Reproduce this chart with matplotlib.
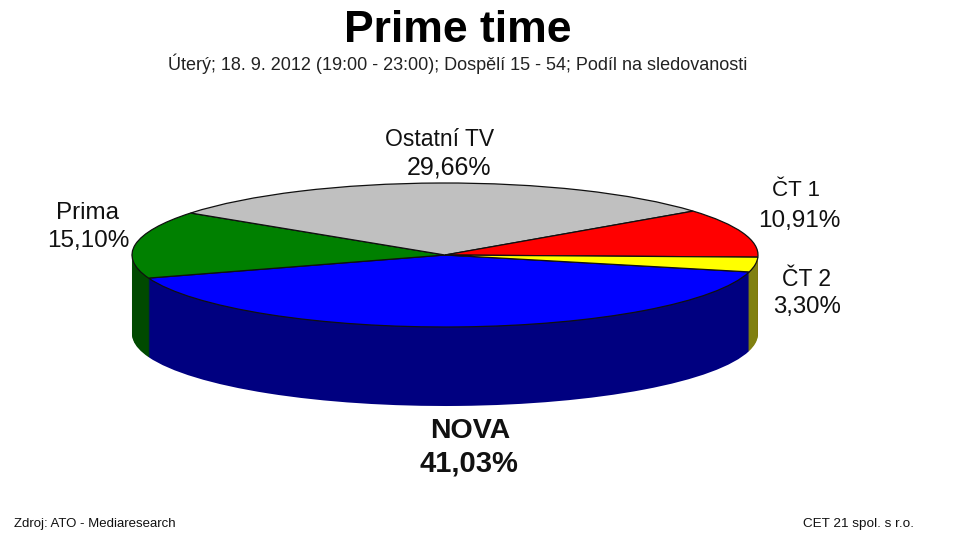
import matplotlib
matplotlib.use("Agg")
import matplotlib.pyplot as plt
from matplotlib.transforms import Affine2D
import numpy as np

plt.rcParams['font.family'] = ['Liberation Sans', 'DejaVu Sans']

categories = ["NOVA", "Prima", "Ostatní TV", "ČT 1", "ČT 2"]
shares = [41.03, 15.10, 29.66, 10.91, 3.30]
share_labels = ["41,03%", "15,10%", "29,66%", "10,91%", "3,30%"]
top_colors = ["#0000ff", "#008000", "#c0c0c0", "#ff0000", "#ffff00"]
side_colors = ["#000080", "#004a00", "#606060", "#800000", "#808010"]

W, H = 959, 541
fig = plt.figure(figsize=(W / 100, H / 100), dpi=100, facecolor="white")
ax = fig.add_axes([0, 0, 1, 1])

cx, cy, rx, ry, depth = 445, 255, 313, 72, 79
start = -13.6


def disc(colors, y, z, lw=0.0):
    # Each disc is built in unit-circle space and mapped to pixels.
    wedges, _ = ax.pie(shares, colors=colors, startangle=start, counterclock=False,
                       radius=1, frame=True,
                       wedgeprops=dict(linewidth=lw, edgecolor="#101010"))
    tr = Affine2D().scale(rx, -ry).translate(cx, y) + ax.transData
    for w in wedges:
        w.set_transform(tr)
        w.set_zorder(z)
        w.set_clip_on(False)
    return wedges


for i, d in enumerate(np.arange(depth, 0, -1)):
    disc(side_colors, cy + d, 2 + i * 0.001)
disc(top_colors, cy, 5, lw=0.9)

ax.set_xlim(0, W)
ax.set_ylim(H, 0)
ax.set_aspect("auto")
ax.axis("off")

ink = "#111111"
ax.text(458, 30, "Prime time", ha="center", va="center", fontsize=32, fontweight="bold", color="black")
ax.text(458, 64, "Úterý; 18. 9. 2012 (19:00 - 23:00); Dospělí 15 - 54; Podíl na sledovanosti",
        ha="center", va="center", fontsize=13, color="#222222")

label_pos = {
    "Ostatní TV": (440, 139, 449, 167, 16.5, 18, "normal"),
    "ČT 1": (796, 191, 799, 221, 16, 17.5, "normal"),
    "ČT 2": (806, 279, 807, 307, 16.5, 17.3, "normal"),
    "Prima": (87, 213, 88, 241, 17.5, 17.5, "normal"),
    "NOVA": (470, 431, 469, 464, 20.5, 21, "bold"),
}
for name, val in zip(categories, share_labels):
    x1, y1, x2, y2, fs1, fs2, fw = label_pos[name]
    ax.text(x1, y1, name, ha="center", va="center", fontsize=fs1, fontweight=fw, color=ink)
    ax.text(x2, y2, val, ha="center", va="center", fontsize=fs2, fontweight=fw, color=ink)

ax.text(14, 524, "Zdroj: ATO - Mediaresearch", ha="left", va="center", fontsize=9.5, color=ink)
ax.text(914, 524, "CET 21 spol. s r.o.", ha="right", va="center", fontsize=9.7, color=ink)

fig.savefig("out.png", dpi=100, facecolor="white")
